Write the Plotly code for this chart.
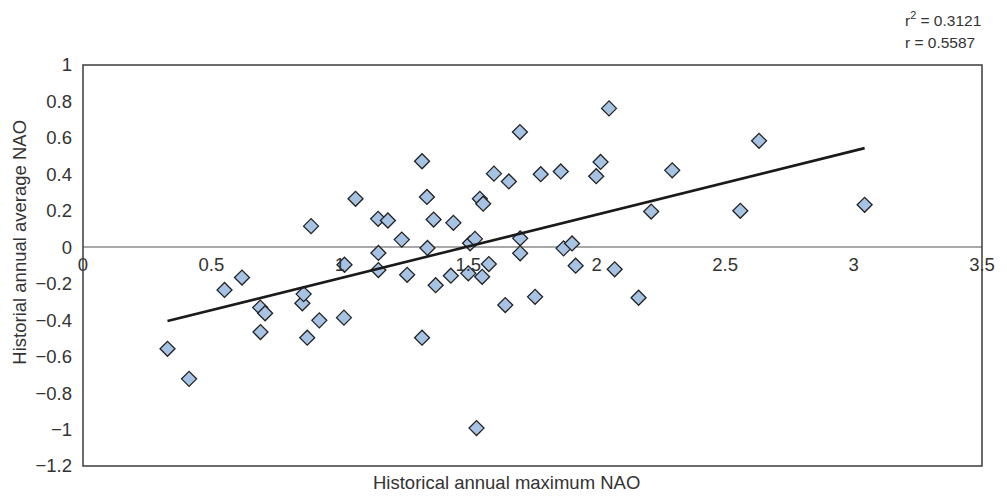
import numpy as np
import plotly.graph_objects as go

# Historical annual maximum NAO (x) vs historical annual average NAO (y)
max_nao = [0.329, 0.413, 0.551, 0.619, 0.690, 0.709, 0.691, 0.854, 0.859, 0.873,
           0.888, 0.920, 1.016, 1.018, 1.061, 1.149, 1.150, 1.150, 1.187, 1.241,
           1.262, 1.320, 1.320, 1.339, 1.341, 1.365, 1.373, 1.432, 1.442, 1.500,
           1.507, 1.526, 1.532, 1.545, 1.554, 1.558, 1.580, 1.600, 1.644, 1.658,
           1.701, 1.702, 1.702, 1.760, 1.782, 1.860, 1.871, 1.904, 1.918, 1.998,
           2.015, 2.048, 2.070, 2.163, 2.212, 2.294, 2.559, 2.632, 3.043]
avg_nao = [-0.557, -0.722, -0.234, -0.166, -0.331, -0.362, -0.465, -0.307, -0.257, -0.496,
           0.116, -0.401, -0.386, -0.096, 0.266, 0.156, -0.031, -0.125, 0.147, 0.042,
           -0.151, 0.472, -0.496, 0.276, -0.004, 0.152, -0.208, -0.156, 0.134, -0.143,
           0.022, 0.046, -0.992, 0.266, -0.162, 0.239, -0.092, 0.404, -0.317, 0.361,
           0.632, 0.049, -0.033, -0.272, 0.401, 0.416, -0.006, 0.021, -0.101, 0.390,
           0.468, 0.762, -0.121, -0.277, 0.196, 0.422, 0.200, 0.584, 0.233]

r_squared_label = "r<sup>2</sup> = 0.3121"
r_label = "r = 0.5587"
x_title = "Historical annual maximum NAO"
y_title = "Historial annual average NAO"

x = np.array(max_nao)
y = np.array(avg_nao)
slope, intercept = np.polyfit(x, y, 1)
fit_x = np.array([x.min(), x.max()])
fit_y = slope * fit_x + intercept

FONT = "Liberation Sans, Arial, sans-serif"
TXT = "#333333"
FS = 18.5

fig = go.Figure()
fig.add_trace(go.Scatter(
    x=x, y=y, mode="markers",
    marker=dict(symbol="diamond", size=11.5, color="#a7c3e4",
                line=dict(color="#222222", width=1.3)),
    showlegend=False, hoverinfo="x+y",
))
fig.add_trace(go.Scatter(
    x=fit_x, y=fit_y, mode="lines",
    line=dict(color="#1a1a1a", width=2.6),
    showlegend=False, hoverinfo="skip",
))

fig.update_layout(
    width=1007, height=500,
    margin=dict(l=83, r=17, t=65, b=34),
    paper_bgcolor="white", plot_bgcolor="white",
    font=dict(family=FONT, size=FS, color=TXT),
    xaxis=dict(range=[0, 3.5], dtick=0.5, tick0=0, showgrid=False, zeroline=False,
               showline=False, ticks="", anchor="free",
               position=1.2 / 2.2, ticklabelstandoff=4,
               tickfont=dict(size=FS, color=TXT)),
    yaxis=dict(range=[-1.2, 1], dtick=0.2, tick0=0, showgrid=False,
               zeroline=True, zerolinecolor="#a8a8a8", zerolinewidth=2,
               showline=False, ticks="", ticklabelstandoff=10,
               tickfont=dict(size=FS, color=TXT)),
    shapes=[dict(type="rect", xref="paper", yref="paper", x0=0, x1=1, y0=0, y1=1,
                 line=dict(color="#3c3c3c", width=1.5), fillcolor="rgba(0,0,0,0)")],
    annotations=[
        dict(text=x_title, xref="paper", yref="paper", x=0.471, y=0,
             xanchor="center", yanchor="middle", yshift=-16, showarrow=False,
             font=dict(size=FS, color=TXT)),
        dict(text=y_title, xref="paper", yref="paper", x=0, y=0.557,
             xanchor="center", yanchor="middle", xshift=-63, textangle=-90,
             showarrow=False, font=dict(size=FS, color=TXT)),
        dict(text=r_squared_label, xref="paper", yref="paper", x=1, y=1,
             xanchor="left", yanchor="middle", xshift=-79, yshift=46,
             showarrow=False, font=dict(size=15.5, color=TXT)),
        dict(text=r_label, xref="paper", yref="paper", x=1, y=1,
             xanchor="left", yanchor="middle", xshift=-79, yshift=23,
             showarrow=False, font=dict(size=15.5, color=TXT)),
    ],
)

fig.write_html("out.html")
